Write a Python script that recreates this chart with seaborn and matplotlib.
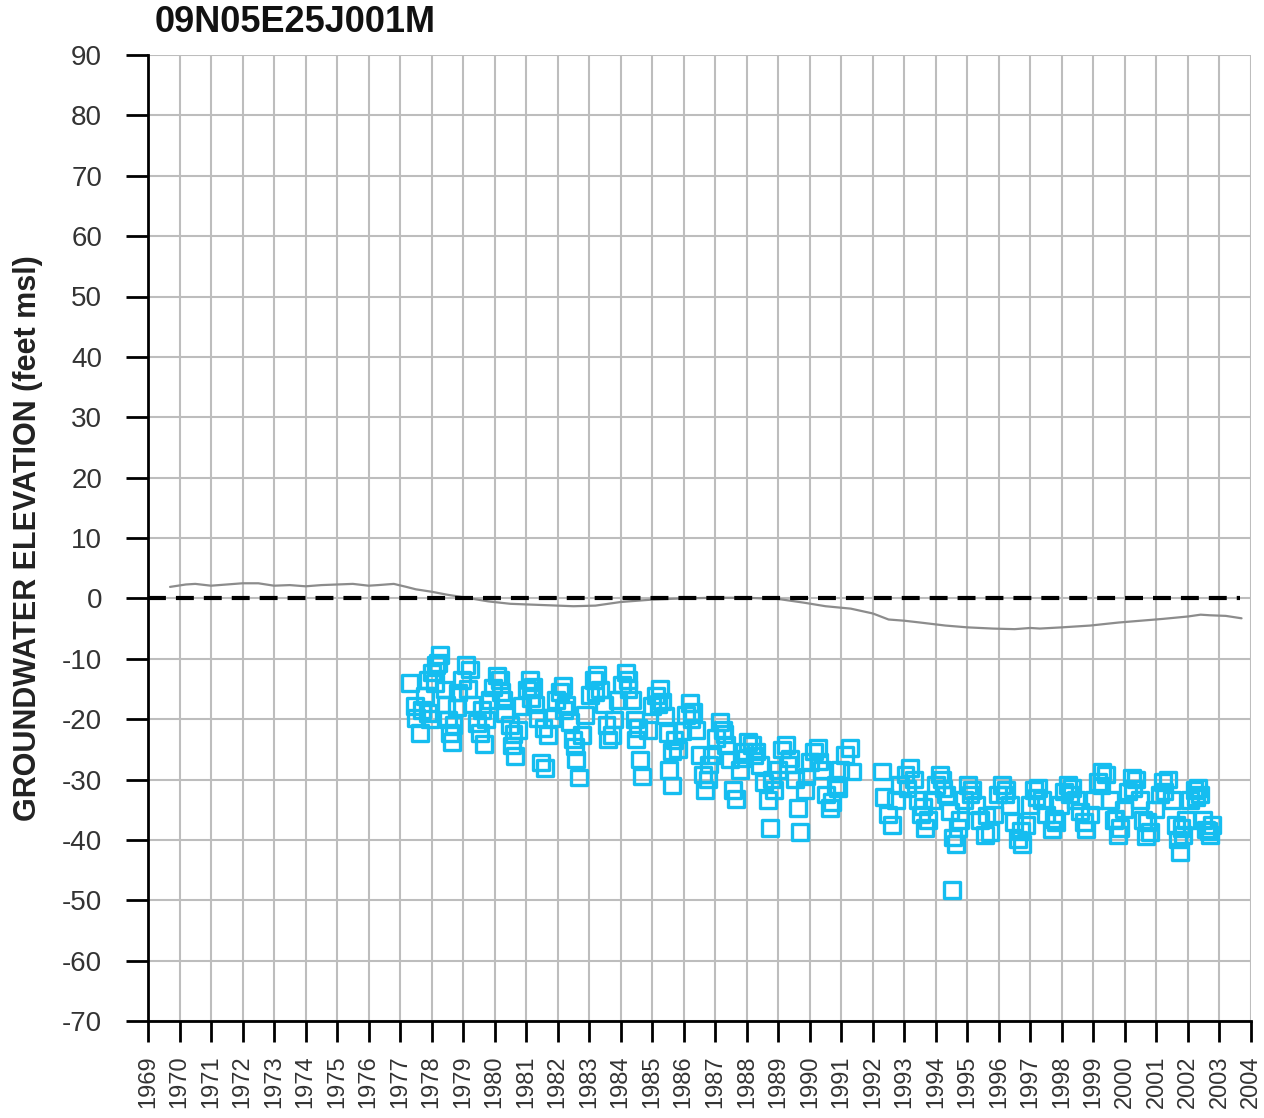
import matplotlib
matplotlib.use("Agg")
import matplotlib.pyplot as plt
from matplotlib.ticker import MultipleLocator
import seaborn as sns
import pandas as pd

# ---------------- data ----------------
title = "09N05E25J001M"
ylabel = "GROUNDWATER ELEVATION (feet msl)"
year_ticks = list(range(1969, 2005))

# gray reference line
line_year = [1969.7, 1970.2, 1970.5, 1971.0, 1971.5, 1972.0, 1972.5, 1973.0, 1973.5, 1974.0,
             1974.5, 1975.0, 1975.5, 1976.0, 1976.3, 1976.8, 1977.2,
             1977.5, 1978.0, 1978.5, 1979.0, 1979.8, 1980.5, 1981.5, 1982.5, 1983.2,
             1984.0, 1985.0, 1986.0, 1987.0, 1988.0, 1989.0, 1989.8, 1990.5, 1991.3,
             1992.0, 1992.5, 1993.0, 1993.5, 1994.3, 1995.0, 1995.8, 1996.5, 1997.0, 1997.3,
             1998.0, 1998.9, 1999.8, 2000.5, 2001.2, 2002.0, 2002.4, 2002.7, 2003.2, 2003.7]
line_level = [1.9, 2.3, 2.4, 2.1, 2.3, 2.5, 2.5, 2.1, 2.2, 2.0,
              2.2, 2.3, 2.4, 2.1, 2.2, 2.4, 1.9,
              1.5, 1.1, 0.6, 0.2, -0.5, -0.9, -1.1, -1.3, -1.2,
              -0.6, -0.2, 0.0, 0.1, 0.1, -0.1, -0.7, -1.3, -1.7,
              -2.5, -3.5, -3.7, -4.0, -4.5, -4.8, -5.0, -5.1, -4.9, -5.0,
              -4.8, -4.5, -4.0, -3.7, -3.4, -3.0, -2.7, -2.8, -2.9, -3.3]

# measured groundwater elevations (open squares)
obs_year = [1977.31, 1977.47, 1977.51, 1977.63, 1977.79, 1977.89, 1977.95, 1978.01, 1978.14,
            1978.20, 1978.27, 1977.89, 1978.43, 1978.46, 1978.52, 1978.58, 1978.65, 1978.81,
            1978.84, 1978.97, 1979.09, 1979.22, 1979.28, 1979.44, 1979.54, 1979.66, 1979.73,
            1979.85, 1979.95, 1980.08, 1980.17, 1980.27, 1980.33, 1980.49, 1980.55, 1980.65,
            1980.74, 1980.87, 1981.03, 1981.12, 1981.22, 1981.28, 1981.38, 1981.47, 1981.60,
            1981.69, 1981.82, 1981.95, 1982.07, 1982.17, 1982.27, 1982.39, 1982.49, 1982.58,
            1982.68, 1982.77, 1982.87, 1983.03, 1983.15, 1983.25, 1983.34, 1983.47, 1983.60,
            1983.73, 1983.79, 1983.92, 1984.04, 1984.17, 1984.23, 1984.36, 1984.46, 1984.49,
            1984.61, 1984.68, 1984.87, 1984.99, 1985.12, 1985.25, 1985.31, 1985.41, 1985.50,
            1985.63, 1985.53, 1985.63, 1985.82, 1985.95, 1986.07, 1986.20, 1986.30, 1986.39,
            1986.52, 1986.61, 1986.68, 1986.77, 1986.90, 1987.02, 1987.15, 1987.25, 1987.34,
            1987.47, 1987.57, 1987.66, 1987.79, 1987.91, 1988.04, 1988.17, 1988.30, 1988.42,
            1988.55, 1988.68, 1988.74, 1988.87, 1988.99, 1989.12, 1989.25, 1989.37, 1989.53,
            1989.63, 1989.69, 1989.85, 1990.01, 1990.14, 1990.26, 1990.39, 1990.52, 1990.64,
            1990.71, 1990.83, 1990.96, 1991.12, 1991.28, 1991.34,
            1992.29, 1992.36, 1992.48, 1992.61, 1992.74, 1992.87, 1993.03, 1993.18, 1993.31,
            1993.44, 1993.53, 1993.66, 1993.75, 1993.88, 1994.01, 1994.13, 1994.20, 1994.33,
            1994.45, 1994.55, 1994.64, 1994.52, 1994.77, 1994.90, 1995.02, 1995.15, 1995.28,
            1995.40, 1995.56, 1995.72, 1995.85, 1995.98, 1996.10, 1996.23, 1996.36, 1996.48,
            1996.61, 1996.74, 1996.86, 1996.99, 1997.12, 1997.24, 1997.37, 1997.50, 1997.69,
            1997.82, 1997.94, 1998.07, 1998.20, 1998.32, 1998.45, 1998.58, 1998.77, 1998.89,
            1999.02, 1999.15, 1999.28, 1999.40, 1999.53, 1999.66, 1999.78, 1999.85, 1999.97,
            2000.10, 2000.23, 2000.35, 2000.48, 2000.58, 2000.67, 2000.80, 2000.96, 2001.12,
            2001.21, 2001.37, 2001.50, 2001.62, 2001.69, 2001.75, 2001.85, 2001.94, 2002.07,
            2002.20, 2002.32, 2002.39, 2002.48, 2002.58, 2002.70, 2002.77,
            # additional overlapping readings
            1977.70, 1978.10, 1978.70, 1979.15, 1979.60, 1980.20, 1980.60, 1981.15, 1981.55,
            1982.20, 1982.55, 1983.20, 1983.55, 1984.25, 1984.55, 1985.20, 1985.70, 1986.25,
            1986.80, 1987.30, 1987.85, 1988.25, 1988.80, 1989.30, 1989.90, 1990.30, 1990.90,
            1993.10, 1993.60, 1994.25, 1994.70, 1995.10, 1995.60, 1996.20, 1996.70, 1997.20,
            1997.75, 1998.25, 1998.70, 1999.25, 1999.70, 2000.25, 2000.70, 2001.25, 2001.80,
            2002.25, 2002.65]
obs_level = [-14.0, -17.8, -19.8, -22.3, -16.2, -13.5, -20.0, -12.3, -11.0,
             -10.7, -9.4, -19.0, -15.1, -17.6, -20.1, -22.3, -23.8, -18.1,
             -15.6, -13.5, -11.0, -11.8, -17.6, -20.6, -22.3, -24.1, -20.1,
             -16.8, -14.8, -12.8, -13.5, -16.8, -19.0, -21.0, -24.4, -26.1,
             -21.8, -17.8, -15.1, -13.5, -14.7, -17.6, -19.8, -27.2, -28.1,
             -22.6, -19.8, -16.8, -15.5, -14.5, -17.6, -20.5, -23.4, -26.7,
             -29.7, -22.6, -19.3, -16.0, -13.5, -12.7, -15.1, -17.6, -23.4,
             -22.6, -20.1, -16.8, -14.3, -12.3, -13.5, -16.8, -20.1, -23.4,
             -26.7, -29.5, -21.8, -17.8, -16.1, -15.0, -17.1, -19.4, -22.3,
             -25.4, -28.4, -31.0, -25.0, -22.0, -19.3, -17.3, -18.8, -21.8,
             -25.9, -29.2, -31.7, -30.0, -26.0, -23.1, -20.5, -21.8, -24.3,
             -26.7, -31.7, -33.2, -28.4, -25.4, -23.8, -24.3, -25.4, -27.6,
             -30.5, -33.4, -38.0, -31.7, -28.4, -25.0, -24.3, -26.5, -30.0,
             -34.7, -38.7, -31.7, -27.1, -25.4, -24.8, -28.4, -32.5, -34.7,
             -33.7, -30.9, -28.4, -25.9, -24.8, -28.7,
             -28.7, -32.9, -35.8, -37.5, -33.4, -30.9, -29.2, -28.1, -30.0,
             -33.4, -35.8, -38.0, -36.7, -33.4, -30.9, -29.2, -30.0, -32.5,
             -35.3, -39.6, -40.7, -48.3, -36.7, -33.4, -30.9, -31.7, -34.2,
             -36.7, -39.2, -38.7, -35.8, -32.5, -30.9, -31.7, -34.2, -37.0,
             -39.9, -40.7, -37.5, -34.2, -31.7, -31.4, -33.4, -35.8, -38.3,
             -37.0, -34.2, -32.0, -30.9, -31.4, -33.4, -35.3, -38.3, -35.8,
             -33.4, -30.4, -28.7, -29.2, -33.4, -36.7, -39.2, -38.0, -35.0,
             -32.0, -29.7, -30.0, -33.4, -36.7, -39.4, -38.7, -35.0, -32.5,
             -30.4, -30.0, -33.4, -37.5, -39.9, -42.0, -39.2, -36.7, -33.4,
             -31.7, -31.4, -32.5, -36.7, -38.3, -39.2, -37.5,
             -18.5, -14.0, -21.0, -15.0, -18.5, -15.5, -22.5, -16.5, -21.5,
             -18.5, -24.5, -15.5, -21.0, -15.0, -21.5, -17.5, -23.5, -20.0,
             -27.5, -22.5, -26.5, -26.0, -30.0, -27.5, -29.5, -27.0, -31.5,
             -31.5, -34.5, -31.5, -38.0, -32.5, -36.0, -32.5, -38.5, -33.0,
             -36.5, -32.5, -37.0, -31.0, -36.5, -31.5, -37.0, -32.0, -38.0,
             -33.0, -38.5]

ref_year = [1969.0, 2003.65]
ref_level = [0.0, 0.0]

# ---------------- plot ----------------
sns.set_style("white")
plt.rcParams["font.family"] = ["Liberation Sans", "DejaVu Sans"]
plt.rcParams["axes.unicode_minus"] = False

fig = plt.figure(figsize=(12.64, 11.18), dpi=100)
ax = fig.add_axes([148 / 1264, 1 - 1021 / 1118, (1251 - 148) / 1264, (1021 - 55) / 1118])

line_df = pd.DataFrame({"year": line_year, "level": line_level})
obs_df = pd.DataFrame({"year": obs_year, "level": obs_level})
ref_df = pd.DataFrame({"year": ref_year, "level": ref_level})

grid_c = "#bdbdbd"
ax.set_axisbelow(True)
ax.grid(True, which="major", color=grid_c, linewidth=1.5)

sns.lineplot(data=line_df, x="year", y="level", ax=ax, color="#8c8c8c",
             linewidth=1.6, zorder=3)
sns.lineplot(data=ref_df, x="year", y="level", ax=ax, color="black",
             linewidth=3.0, linestyle=(0, (4.3, 2.4)), zorder=4)
sns.scatterplot(data=obs_df, x="year", y="level", ax=ax, marker="s", s=125,
                facecolors="none", edgecolor="#15BDF0", linewidth=2.4, zorder=5)

ax.set_xlim(1969, 2004)
ax.set_ylim(-70, 90)
ax.set_xticks(year_ticks)
ax.set_xticklabels([str(y) for y in year_ticks], rotation=90, fontsize=17, color="#333333")
ax.yaxis.set_major_locator(MultipleLocator(10))
ax.yaxis.set_minor_locator(MultipleLocator(5))
ax.tick_params(axis="y", which="major", direction="out", length=16, width=2,
               color="black", labelsize=20, labelcolor="#333333", pad=17)
ax.tick_params(axis="y", which="minor", direction="out", length=3, width=2, color="black")
ax.tick_params(axis="x", which="major", direction="out", length=15, width=2,
               color="black", pad=10)
ax.tick_params(left=True, bottom=True)

for side in ["top", "right"]:
    ax.spines[side].set_visible(False)
for side in ["left", "bottom"]:
    ax.spines[side].set_color("black")
    ax.spines[side].set_linewidth(2)

ax.set_xlabel("")
ax.set_ylabel(ylabel, fontsize=22, fontweight="bold", color="#222222")
ax.yaxis.set_label_coords(-105 / 1103, 0.5)

fig.text(155 / 1264, 1 - 23 / 1118, title, fontsize=26, fontweight="bold",
         color="#111111", ha="left", va="center")

fig.savefig("out.png", dpi=100, facecolor="white")
